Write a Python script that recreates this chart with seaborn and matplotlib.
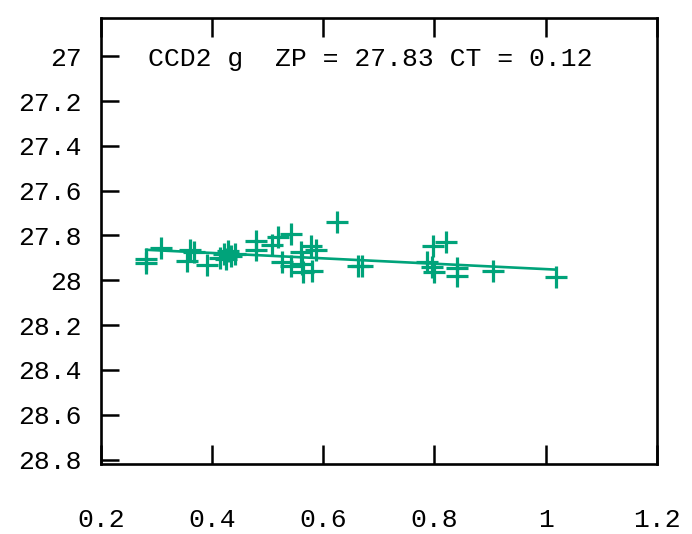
import numpy as np
import pandas as pd
import seaborn as sns
import matplotlib.pyplot as plt

sns.set_style('white')
plt.rcParams['font.family'] = ['Liberation Mono', 'DejaVu Sans Mono']
plt.rcParams['text.color'] = 'black'

# colour index vs zero point, CCD2 g band
colour = [0.281, 0.281, 0.308, 0.360, 0.355, 0.368, 0.391, 0.414, 0.422, 0.429,
          0.434, 0.441, 0.425, 0.479, 0.479, 0.508, 0.519, 0.541, 0.526, 0.542,
          0.562, 0.564, 0.580, 0.577, 0.587, 0.559, 0.625, 0.663, 0.670, 0.787,
          0.796, 0.800, 0.798, 0.820, 0.841, 0.841, 0.905, 1.018]
zp = [27.904, 27.922, 27.855, 27.864, 27.913, 27.873, 27.931, 27.900, 27.882, 27.869,
      27.891, 27.882, 27.904, 27.824, 27.864, 27.842, 27.806, 27.793, 27.918, 27.935,
      27.927, 27.962, 27.958, 27.846, 27.864, 27.873, 27.739, 27.935, 27.935, 27.918,
      27.940, 27.962, 27.846, 27.829, 27.944, 27.980, 27.958, 27.984]

ZP = 27.83
CT = 0.12

data = pd.DataFrame({'colour': colour, 'zp': zp})
fit = pd.DataFrame({'colour': [data.colour.min(), data.colour.max()]})
fit['zp'] = ZP + CT * fit.colour

green = '#00a37a'

fig = plt.figure(figsize=(6.92, 5.34), dpi=100)
ax = fig.add_axes([0.146, 0.131, 0.803, 0.835])

sns.scatterplot(data=data, x='colour', y='zp', marker='+', s=230,
                color=green, linewidth=2.3, ax=ax, legend=False, zorder=3)
sns.lineplot(data=fit, x='colour', y='zp', color=green, linewidth=1.9, ax=ax)

ax.set_xlim(0.2, 1.2)
ax.set_ylim(28.82, 26.83)
ax.set_xticks([0.2, 0.4, 0.6, 0.8, 1.0, 1.2])
ax.set_xticklabels(['0.2', '0.4', '0.6', '0.8', '1', '1.2'])
ax.set_yticks([27, 27.2, 27.4, 27.6, 27.8, 28, 28.2, 28.4, 28.6, 28.8])
ax.set_yticklabels(['27', '27.2', '27.4', '27.6', '27.8', '28', '28.2', '28.4', '28.6', '28.8'])
ax.set_xlabel('')
ax.set_ylabel('')

ax.tick_params(axis='x', direction='in', length=14, width=1.8, pad=32,
               labelsize=19, top=True, bottom=True, colors='black')
ax.tick_params(axis='y', direction='in', length=13, width=1.8, pad=14,
               labelsize=19, left=True, right=False, colors='black')
for s in ax.spines.values():
    s.set_linewidth(1.9)
    s.set_color('black')

ax.text(0.085, 0.908, 'CCD2 g  ZP = %.2f CT = %.2f' % (ZP, CT),
        transform=ax.transAxes, fontsize=19, va='center', ha='left')

plt.savefig('out.png', dpi=100)
